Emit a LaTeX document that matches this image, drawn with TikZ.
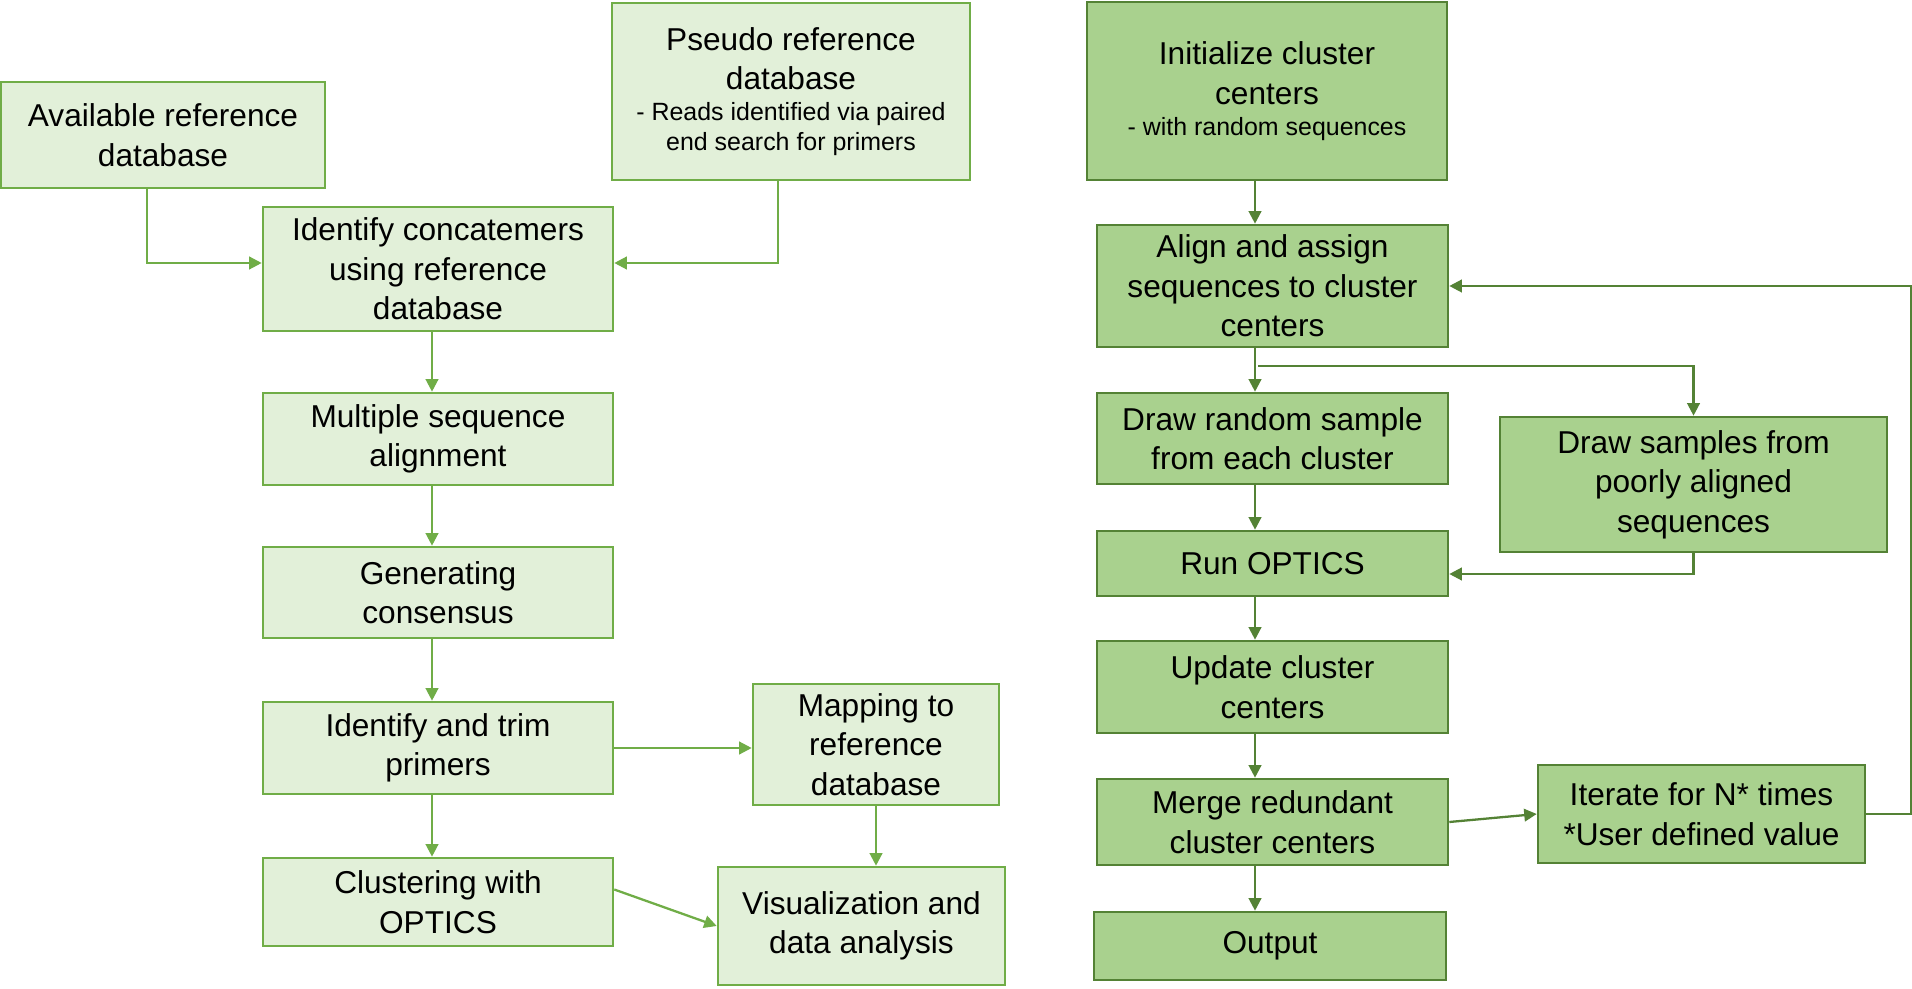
\documentclass[tikz,border=0pt]{standalone}
\usepackage{fontspec}
\setmainfont{Liberation Sans}
\usetikzlibrary{arrows.meta, calc}

\definecolor{paleleaf}{HTML}{E2F0D9}
\definecolor{leafline}{HTML}{70AD47}
\definecolor{mossfill}{HTML}{A9D18E}
\definecolor{mossline}{HTML}{548235}

\newcommand{\subline}{\fontsize{14.2}{17}\selectfont}

\begin{document}
\begin{tikzpicture}[x=0.02cm, y=-0.02cm,
    every node/.style={align=center, inner sep=0pt, font=\fontsize{18}{22.5}\selectfont},
    lbox/.style={draw=leafline, fill=paleleaf, line width=1.5pt},
    dbox/.style={draw=mossline, fill=mossfill, line width=1.5pt},
    larrow/.style={draw=leafline, line width=1.3pt, -{Triangle[length=0.25cm, width=0.25cm]}},
    darrow/.style={draw=mossline, line width=1.3pt, -{Triangle[length=0.25cm, width=0.25cm]}}]

        \useasboundingbox (0,0) rectangle (1912,989);

        % Left flow
        \node[lbox, minimum width=6.48cm, minimum height=2.12cm] (avail) at (163,135) {Available reference\\database};
        \node[lbox, minimum width=7.16cm, minimum height=3.54cm] (pseudo) at (791,91.5) {Pseudo reference\\database\\[-5pt]\subline - Reads identified via paired\\[-5.5pt]\subline end search for primers};
        \node[lbox, minimum width=7cm, minimum height=2.48cm] (ident) at (438,269) {Identify concatemers\\using reference\\database};
        \node[lbox, minimum width=7cm, minimum height=1.84cm] (msa) at (438,439) {Multiple sequence\\alignment};
        \node[lbox, minimum width=7cm, minimum height=1.82cm] (cons) at (438,592.5) {Generating\\consensus};
        \node[lbox, minimum width=7cm, minimum height=1.84cm] (trim) at (438,748) {Identify and trim\\primers};
        \node[lbox, minimum width=7cm, minimum height=1.76cm] (clust) at (438,902) {Clustering with\\OPTICS};
        \node[lbox, minimum width=4.92cm, minimum height=2.42cm] (mapref) at (876,744.5) {Mapping to\\reference\\database};
        \node[lbox, minimum width=5.74cm, minimum height=2.36cm] (visual) at (861.5,926) {Visualization and\\data analysis};

        % Right flow
        \node[dbox, minimum width=7.2cm, minimum height=3.56cm] (init) at (1267,91) {Initialize cluster\\centers\\[-5pt]\subline - with random sequences};
        \node[dbox, minimum width=7.02cm, minimum height=2.44cm] (assign) at (1272.5,286) {Align and assign\\sequences to cluster\\centers};
        \node[dbox, minimum width=7.02cm, minimum height=1.82cm] (drawr) at (1272.5,438.5) {Draw random sample\\from each cluster};
        \node[dbox, minimum width=7.02cm, minimum height=1.3cm] (run) at (1272.5,563.5) {Run OPTICS};
        \node[dbox, minimum width=7.02cm, minimum height=1.84cm] (upd) at (1272.5,687) {Update cluster\\centers};
        \node[dbox, minimum width=7.02cm, minimum height=1.72cm] (merge) at (1272.5,822) {Merge redundant\\cluster centers};
        \node[dbox, minimum width=7.04cm, minimum height=1.36cm] (output) at (1270,946) {Output};
        \node[dbox, minimum width=7.74cm, minimum height=2.7cm] (draws) at (1693.5,484.5) {Draw samples from\\poorly aligned\\sequences};
        \node[dbox, minimum width=6.54cm, minimum height=1.96cm] (iter) at (1701.5,814) {Iterate for N* times\\*User defined value};

        \coordinate (lx) at (432,0);
        \coordinate (rx) at (1255,0);

        \draw[larrow] ([xshift=-0.32cm]avail.south) |- ([yshift=0.12cm]ident.west);
        \draw[larrow] ([xshift=-0.26cm]pseudo.south) |- ([yshift=0.12cm]ident.east);
        \foreach \a/\b in {ident/msa, msa/cons, cons/trim, trim/clust} {
            \draw[larrow] (\a.south -| lx) -- (\b.north -| lx);
        }
        \draw[larrow] (trim.east) -- (trim.east -| mapref.west);
        \draw[larrow] (mapref.south) -- (mapref.south |- visual.north);
        \draw[larrow] ([yshift=0.25cm]clust.east) -- (visual.west);

        \foreach \a/\b in {init/assign, assign/drawr, drawr/run, run/upd, upd/merge, merge/output} {
            \draw[darrow] (\a.south -| rx) -- (\b.north -| rx);
        }
        \coordinate (split) at (1258,366);
        \draw[darrow] (split) -| (draws.north);
        \draw[darrow] (draws.south) |- ([yshift=-0.21cm]run.east);
        \draw[darrow] (merge.east) -- (iter.west);
        \draw[darrow] (iter.east) -- ++(45,0) |- (assign.east);

    \end{tikzpicture}
\end{document}
